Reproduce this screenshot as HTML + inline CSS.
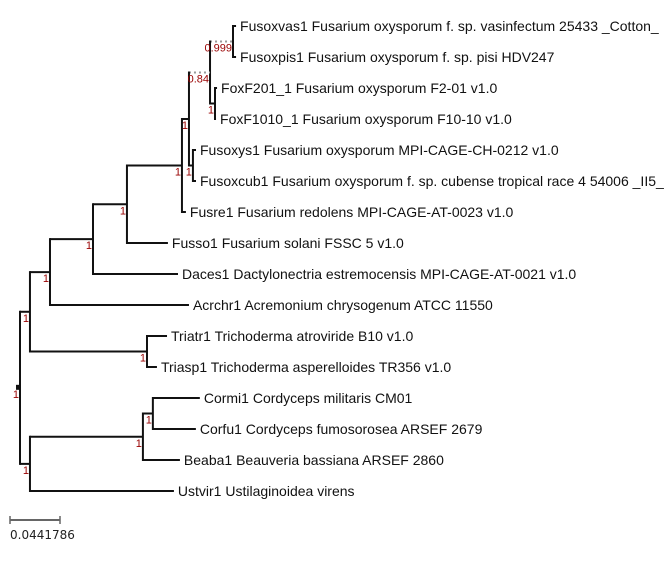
<!DOCTYPE html>
<html><head><meta charset="utf-8"><style>
html,body{margin:0;padding:0;background:#fff;}
svg{display:block;font-family:"Liberation Sans",sans-serif;}
</style></head><body>
<svg id="tree" width="670" height="566" viewBox="0 0 670 566" xmlns="http://www.w3.org/2000/svg">
<g id="branches"></g>
<g id="labels"></g>
<g id="supports"></g>
<g>
<line x1="10" y1="520" x2="60" y2="520" stroke="#666" stroke-width="2"/>
<line x1="10" y1="516" x2="10" y2="524" stroke="#666" stroke-width="1.5"/>
<line x1="60" y1="516" x2="60" y2="524" stroke="#666" stroke-width="1.5"/>
<text x="10" y="539" font-family="DejaVu Sans, sans-serif" font-size="12" fill="#222">0.0441786</text>
</g>
</svg>
<script>
const scaleValue = 0.0441786;
const scalePx = 50;
const leafNames = [
"Fusoxvas1 Fusarium oxysporum f. sp. vasinfectum 25433 _Cotton_",
"Fusoxpis1 Fusarium oxysporum f. sp. pisi HDV247",
"FoxF201_1 Fusarium oxysporum F2-01 v1.0",
"FoxF1010_1 Fusarium oxysporum F10-10 v1.0",
"Fusoxys1 Fusarium oxysporum MPI-CAGE-CH-0212 v1.0",
"Fusoxcub1 Fusarium oxysporum f. sp. cubense tropical race 4 54006 _II5_",
"Fusre1 Fusarium redolens MPI-CAGE-AT-0023 v1.0",
"Fusso1 Fusarium solani FSSC 5 v1.0",
"Daces1 Dactylonectria estremocensis MPI-CAGE-AT-0021 v1.0",
"Acrchr1 Acremonium chrysogenum ATCC 11550",
"Triatr1 Trichoderma atroviride B10 v1.0",
"Triasp1 Trichoderma asperelloides TR356 v1.0",
"Cormi1 Cordyceps militaris CM01",
"Corfu1 Cordyceps fumosorosea ARSEF 2679",
"Beaba1 Beauveria bassiana ARSEF 2860",
"Ustvir1 Ustilaginoidea virens"];
const leafLengths = [0.0027,0.0027,0.0018,0.0009,0.0027,0.0027,0.0035,0.0362,0.0751,0.1228,0.0177,0.0088,0.0415,0.0380,0.0327,0.1272];
const nodes = {
 root:[0,"1",false,["A","E"]],
 A:[0.0088,"1",false,["B","T"]],
 B:[0.0177,"1",false,["C",9]],
 C:[0.0380,"1",false,["D",8]],
 D:[0.0300,"1",false,["F",7]],
 F:[0.0486,"1",false,["G",6]],
 G:[0.0062,"1",false,["I","H"]],
 I:[0.0186,"0.84",true,["J","K"]],
 J:[0.0203,"0.999",true,[0,1]],
 K:[0.0044,"1",false,[2,3]],
 H:[0.0035,"1",false,[4,5]],
 T:[0.1034,"1",false,[10,11]],
 E:[0.0088,"1",false,["M",15]],
 M:[0.0998,"1",false,["S",14]],
 S:[0.0088,"1",false,[12,13]]
};
const rootX = 20, topY = 26, stepY = 31;
function xOf(d){ return rootX + d / scaleValue * scalePx; }
function yOfLeaf(i){ return topY + i * stepY; }
const NS = "http://www.w3.org/2000/svg";
const gB = document.getElementById("branches"), gL = document.getElementById("labels"), gS = document.getElementById("supports");
function line(x1,y1,x2,y2,dotted,name){
  const l = document.createElementNS(NS,"line");
  l.setAttribute("x1",x1);l.setAttribute("y1",y1);l.setAttribute("x2",x2);l.setAttribute("y2",y2);
  l.setAttribute("stroke",dotted?"#999":"#111");
  l.setAttribute("stroke-width","2");
  if(dotted) l.setAttribute("stroke-dasharray","2,3");
  
  
  gB.appendChild(l);
}
function draw(key, parentDepth){
  if(typeof key === "number"){
    const d = parentDepth + leafLengths[key];
    const x = xOf(d), y = yOfLeaf(key);
    line(xOf(parentDepth), y, x, y, false, "branch-leaf");
    const t = document.createElementNS(NS,"text");
    t.setAttribute("x", x+4); t.setAttribute("y", y+5);
    t.setAttribute("font-size","14"); t.setAttribute("fill","#111");
    
    
    t.textContent = leafNames[key];
    gL.appendChild(t);
    return y;
  }
  const n = nodes[key];
  const d = parentDepth + n[0];
  const x = xOf(d);
  const ys = n[3].map(c => draw(c, d));
  const y0 = Math.min(...ys), y1 = Math.max(...ys), y = (y0+y1)/2;
  line(x, y0-1, x, y1+1, false, "node-connector");
  if(key !== "root") line(xOf(parentDepth), y, x, y, n[2], "branch-internal");
  const s = document.createElementNS(NS,"text");
  s.setAttribute("x", x-1); s.setAttribute("y", y+10);
  s.setAttribute("text-anchor","end");
  s.setAttribute("font-size","11"); s.setAttribute("fill","#990000");
  
  
  s.textContent = n[1];
  gS.appendChild(s);
  if(key === "root"){
    const c = document.createElementNS(NS,"rect");
    c.setAttribute("x", x-4); c.setAttribute("y", y-3); c.setAttribute("width",5); c.setAttribute("height",5);
    c.setAttribute("fill","#111");
    
    
    gB.appendChild(c);
  }
  return y;
}
draw("root", 0);
</script>
</body></html>
